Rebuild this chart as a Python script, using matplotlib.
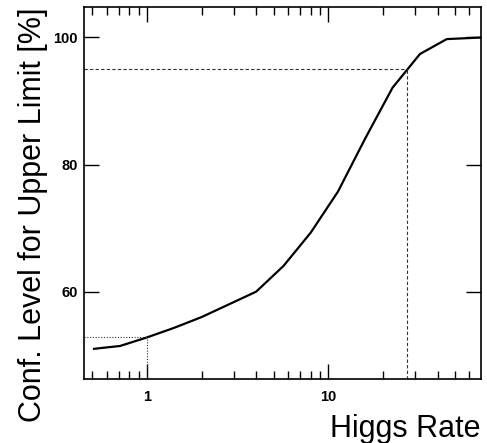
import numpy as np
import matplotlib
matplotlib.use("Agg")
import matplotlib.pyplot as plt
from matplotlib.ticker import FixedLocator, NullFormatter, NullLocator

plt.rcParams['font.family'] = ['Liberation Sans', 'DejaVu Sans']

# Higgs rate scan and confidence level (%)
rate = [0.51, 0.71, 1.0, 1.41, 2.0, 2.83, 4.0, 5.66, 8.0, 11.3, 16.0, 22.6, 32.0, 45.0, 70.0]
cl = [51.0, 51.45, 52.8, 54.3, 56.0, 58.0, 60.0, 64.05, 69.3, 75.75, 84.15, 92.1, 97.4, 99.75, 100.0]

limit_cl = 95.0
limit_rate = 27.3
obs_rate = 1.0
obs_cl = 52.8

fig = plt.figure(figsize=(4.87, 4.43), dpi=100)
ax = fig.add_axes([84 / 487, 1 - 379 / 443, 397 / 487, 372 / 443])

ax.plot(rate, cl, color='black', lw=1.6, solid_joinstyle='miter')

xmin, xmax = 0.449, 69.5
ymin, ymax = 46.25, 104.8

# 95% limit lines
ax.plot([xmin, limit_rate], [limit_cl, limit_cl], color='#333333', lw=0.8, ls=(0, (3, 2)))
ax.plot([limit_rate, limit_rate], [ymin, limit_cl], color='#333333', lw=0.8, ls=(0, (3, 2)))
# observed point
ax.plot([xmin, obs_rate], [obs_cl, obs_cl], color='#333333', lw=0.8, ls=(0, (1, 1.5)))
ax.plot([obs_rate, obs_rate], [ymin, obs_cl], color='#333333', lw=0.8, ls=(0, (1, 1.5)))

ax.set_xscale('log')
ax.set_xlim(xmin, xmax)
ax.set_ylim(ymin, ymax)

ax.xaxis.set_major_locator(FixedLocator([1, 10]))
ax.set_xticklabels(['1', '10'])
minors = [0.5, 0.6, 0.7, 0.8, 0.9] + list(range(2, 10)) + list(range(20, 70, 10))
ax.xaxis.set_minor_locator(FixedLocator(minors))
ax.xaxis.set_minor_formatter(NullFormatter())
ax.set_yticks([60, 80, 100])
ax.yaxis.set_minor_locator(NullLocator())

ax.tick_params(which='both', direction='in', top=True, right=True, width=1.0)
ax.tick_params(which='major', length=11, labelsize=10.5)
ax.tick_params(axis='x', which='major', pad=8)
ax.tick_params(axis='y', which='major', pad=4.5)
ax.tick_params(which='minor', length=6)
for lab in ax.get_xticklabels() + ax.get_yticklabels():
    lab.set_fontweight('bold')

for s in ax.spines.values():
    s.set_linewidth(1.2)

ax.set_xlabel('Higgs Rate', fontsize=22, ha='right', va='top')
ax.xaxis.set_label_coords(1.0, -0.093)
ax.set_ylabel('Conf. Level for Upper Limit [%]', fontsize=22, ha='right', va='bottom')
ax.yaxis.set_label_coords(-0.09, 1.0)

fig.savefig('out.png', dpi=100)
